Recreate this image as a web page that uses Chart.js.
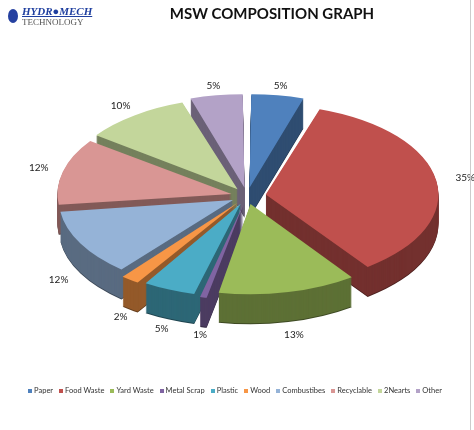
<!DOCTYPE html>
<html><head><meta charset="utf-8">
<script src="https://cdn.jsdelivr.net/npm/chart.js@4"></script>
<style>
body{margin:0;background:#fff;}
#wrap{position:relative;width:474px;height:430px;overflow:hidden;}
#title{position:absolute;top:4px;left:0;width:474px;padding-left:70px;box-sizing:border-box;text-align:center;font:bold 15px Lato,"Open Sans",sans-serif;color:#111;}
#logo{position:absolute;left:8px;top:6px;}
#logo .a{font:italic bold 11px "Liberation Serif",serif;color:#1f3f9f;text-decoration:underline;margin-left:14px;line-height:11px}
#logo .b{font:9px "Liberation Serif",serif;color:#555;margin-left:14px;line-height:10px}
#logo .dot{position:absolute;left:0;top:3px;width:10px;height:14px;border-radius:50%;background:#2540a0}
#legend{position:absolute;top:386px;left:0;width:470px;text-align:center;font:7.5px Lato,sans-serif;color:#333;white-space:nowrap}
#legend span{margin:0 3px}
#legend i{display:inline-block;width:4px;height:4px;margin-right:2px;vertical-align:middle}
#edge{position:absolute;right:3px;top:0;width:1px;height:430px;background:#ccc}
canvas{position:absolute;left:0;top:0}
</style></head><body>
<div id="wrap">
<canvas id="c" width="474" height="430"></canvas>
<div id="logo"><div class="dot"></div><div class="a">HYDR●MECH</div><div class="b">TECHNOLOGY</div></div>
<div id="title">MSW COMPOSITION GRAPH</div>
<div id="legend"></div>
<div id="edge"></div>
</div>
<script>
const categories=["Paper","Food Waste","Yard Waste","Metal Scrap","Plastic","Wood","Combustibes","Recyclable","2Nearts","Other"];
const values=[5,35,13,1,5,2,12,12,10,5];
const colors=["#4F81BD","#C0504D","#9BBB59","#8064A2","#4BACC6","#F79646","#95B3D7","#D99694","#C3D69B","#B3A2C7"];
const offsets=[64,76,64,64,64,64,64,64,64,64];
function dark(h,f){const n=parseInt(h.slice(1),16);const r=(n>>16)*f,g=((n>>8)&255)*f,b=(n&255)*f;return `rgb(${r|0},${g|0},${b|0})`;}
document.getElementById('legend').innerHTML=categories.map((c,i)=>`<span><i style="background:${colors[i]}"></i>${c}</span>`).join('');
const K=0.52, CY=196, DEPTH=30;
const pie3d={id:'pie3d',
 beforeDatasetsDraw(chart){
  const ctx=chart.ctx, meta=chart.getDatasetMeta(0);
  const ca=chart.chartArea, oy=(ca.top+ca.bottom)/2;
  const paint=(d,colFn)=>{
    meta.data.forEach((arc,i)=>{
      ctx.save();ctx.translate(0,CY+d);ctx.scale(1,K);ctx.translate(0,-oy);
      const o=arc.options, bg=o.backgroundColor, bc=o.borderColor;
      o.backgroundColor=colFn(i);o.borderColor=colFn(i);
      arc.draw(ctx);o.backgroundColor=bg;o.borderColor=bc;ctx.restore();
    });
  };
  for(let d=DEPTH;d>0;d--) paint(d,i=>dark(colors[i],d===DEPTH?0.4:0.6));
  paint(0,i=>colors[i]);
  ctx.save();ctx.font='10px Lato,sans-serif';ctx.fillStyle='#222';ctx.textAlign='center';ctx.textBaseline='middle';
  meta.data.forEach((arc,i)=>{
    const a=(arc.startAngle+arc.endAngle)/2, r=arc.outerRadius+offsets[i]/2+14;
    let x=arc.x+Math.cos(a)*r, y=CY+(Math.sin(a)*r)*K;
    if(Math.sin(a)>0.2) y+=DEPTH;
    ctx.fillText(values[i]+'%',x,y);
  });
  ctx.restore();
  return false;
 }};
new Chart(document.getElementById('c'),{type:'pie',
 data:{labels:categories,datasets:[{data:values,backgroundColor:colors,borderWidth:0,offset:offsets}]},
 options:{responsive:false,animation:false,layout:{padding:{left:40,right:20,top:0,bottom:0}},
  plugins:{legend:{display:false},tooltip:{enabled:false}}},
 plugins:[pie3d]});
</script></body></html>
